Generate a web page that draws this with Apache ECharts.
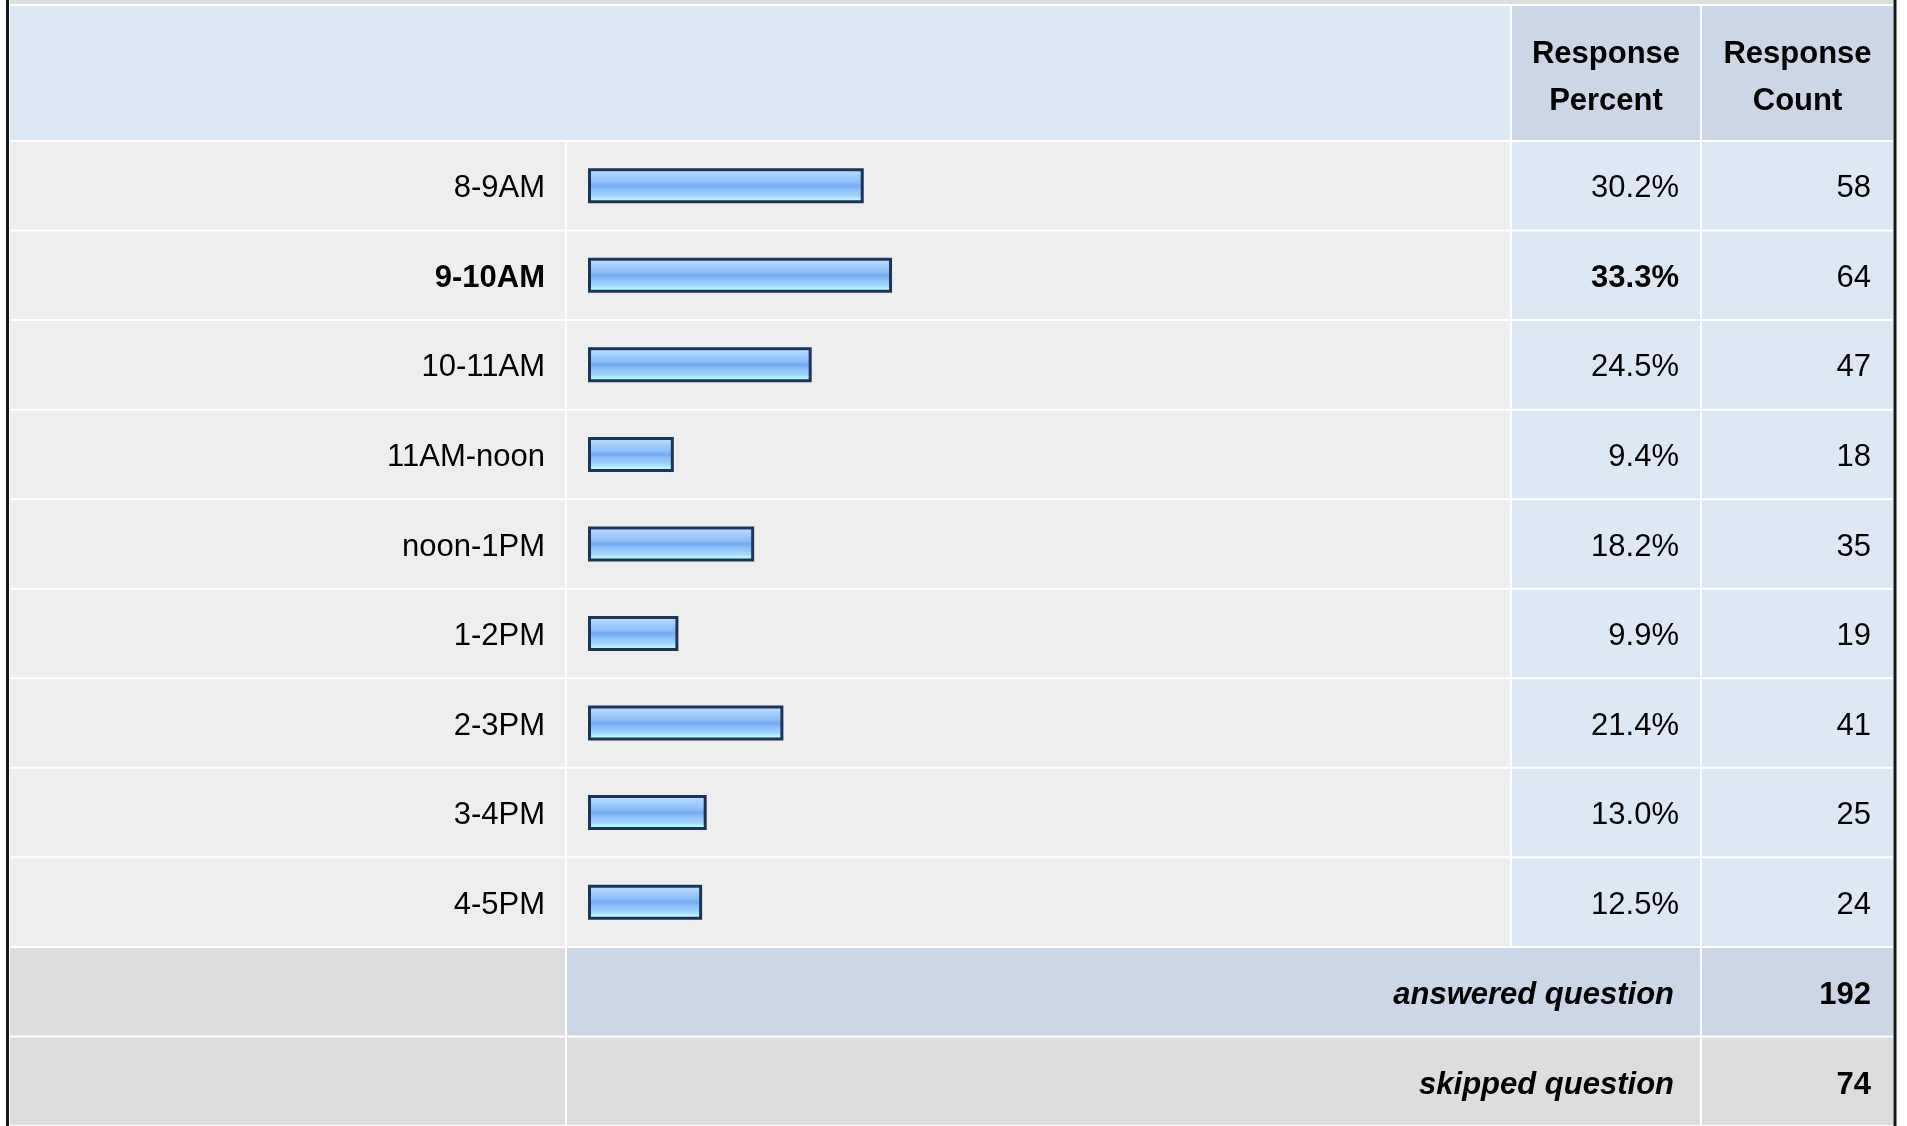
<!DOCTYPE html>
<html><head><meta charset="utf-8">
<script src="https://cdn.jsdelivr.net/npm/echarts@6/dist/echarts.min.js"></script>
<style>html,body{margin:0;padding:0;background:#fff;overflow:hidden}#c{width:1907px;height:1126px}</style>
</head><body><div id="c"></div>
<script>
// ---- data ----
const categories = ['8-9AM','9-10AM','10-11AM','11AM-noon','noon-1PM','1-2PM','2-3PM','3-4PM','4-5PM'];
const responsePercent = [30.2,33.3,24.5,9.4,18.2,9.9,21.4,13.0,12.5];
const responseCount = [58,64,47,18,35,19,41,25,24];
const headerLabels = ['Response\nPercent','Response\nCount'];
const footerLabels = ['answered question','skipped question'];
const footerCounts = [192,74];

// ---- layout / style ----
const FONT = '"Liberation Sans", Arial, Helvetica, sans-serif';
const FS = 31;
const COL = {labelL:10, labelR:565, barL:567, barR:1510, pctL:1512, pctR:1700, cntL:1702, cntR:1893};
const C = {body:'#eeeeee', lightBlue:'#dde8f5', darkBlue:'#cbd7e6', grey:'#dddddd', border:'#161616'};
const maxIdx = responsePercent.indexOf(Math.max(...responsePercent));
const allRows = categories.concat(footerLabels);

function txt(x, y, s, align, weight, style) {
  return {type:'text', z2:10, style:{x:x, y:y, text:s, align:align, verticalAlign:'middle',
    fontSize:FS, fontFamily:FONT, fontWeight:weight||'normal', fontStyle:style||'normal', fill:'#000', lineHeight:47}};
}
function rect(x1, y1, x2, y2, fill) {
  return {type:'rect', shape:{x:x1, y:y1, width:x2-x1, height:y2-y1}, style:{fill:fill}};
}

function renderBody(params, api) {
  const i = api.value(1);
  const c = api.coord([0, i]);
  const h = api.size([0, 1])[1];
  const y1 = c[1] - h / 2 + 1, y2 = c[1] + h / 2 - 1, cy = c[1] + 3;
  const ch = [];
  if (i < categories.length) {
    const bold = i === maxIdx ? 'bold' : 'normal';
    ch.push(rect(COL.labelL, y1, COL.labelR, y2, C.body));
    ch.push(rect(COL.barL, y1, COL.barR, y2, C.body));
    ch.push(rect(COL.pctL, y1, COL.pctR, y2, C.lightBlue));
    ch.push(rect(COL.cntL, y1, COL.cntR, y2, C.lightBlue));
    ch.push(txt(COL.labelR - 20, cy, categories[i], 'right', bold));
    ch.push(txt(COL.pctR - 21, cy, responsePercent[i].toFixed(1) + '%', 'right', bold));
    ch.push(txt(COL.cntR - 22, cy, String(responseCount[i]), 'right'));
  } else {
    const k = i - categories.length;
    const fill = k === 0 ? C.darkBlue : C.grey;
    ch.push(rect(COL.labelL, y1, COL.labelR, y2, C.grey));
    ch.push(rect(COL.barL, y1, COL.pctR, y2, fill));
    ch.push(rect(COL.cntL, y1, COL.cntR, y2, fill));
    ch.push(txt(COL.pctR - 26, cy + 1, footerLabels[k], 'right', 'bold', 'italic'));
    ch.push(txt(COL.cntR - 22, cy + 1, String(footerCounts[k]), 'right', 'bold'));
  }
  return {type:'group', children:ch};
}

function renderHeader(params, api) {
  const c = api.coord([0, 0]);
  const h = api.size([0, 1])[1];
  const y1 = c[1] - h / 2, y2 = c[1] + h / 2, cy = c[1];
  return {type:'group', children:[
    rect(COL.labelL, y1, COL.barR, y2, C.lightBlue),
    rect(COL.pctL, y1, COL.pctR, y2, C.darkBlue),
    rect(COL.cntL, y1, COL.cntR, y2, C.darkBlue),
    txt((COL.pctL + COL.pctR) / 2, cy + 5, headerLabels[0], 'center', 'bold'),
    txt((COL.cntL + COL.cntR) / 2, cy + 5, headerLabels[1], 'center', 'bold')
  ]};
}

const chart = echarts.init(document.getElementById('c'), null, {renderer:'canvas'});
chart.setOption({
  animation:false,
  backgroundColor:'#ffffff',
  grid:[
    {left:588, width:913, top:141, height:985},
    {left:588, width:913, top:6, height:134}
  ],
  xAxis:[
    {gridIndex:0, type:'value', min:0, max:100, show:false},
    {gridIndex:1, type:'value', min:0, max:100, show:false}
  ],
  yAxis:[
    {gridIndex:0, type:'category', data:allRows, inverse:true, show:false},
    {gridIndex:1, type:'category', data:['header'], show:false}
  ],
  graphic:[
    {type:'rect', shape:{x:COL.labelL, y:0, width:COL.cntR - COL.labelL, height:4}, style:{fill:C.grey}, z:-1},
    {type:'rect', shape:{x:6, y:0, width:3, height:1126}, style:{fill:C.border}, z:100},
    {type:'rect', shape:{x:1893.5, y:0, width:3, height:1126}, style:{fill:C.border}, z:100}
  ],
  series:[
    {type:'custom', xAxisIndex:1, yAxisIndex:1, z:1, silent:true,
      data:[[0, 0]], encode:{x:0, y:1}, renderItem:renderHeader},
    {type:'custom', xAxisIndex:0, yAxisIndex:0, z:1, silent:true,
      data:allRows.map((_, i) => [0, i]), encode:{x:0, y:1}, renderItem:renderBody},
    {type:'bar', xAxisIndex:0, yAxisIndex:0, z:5, barWidth:35, silent:true,
      data:responsePercent,
      itemStyle:{
        borderColor:'#1c3458', borderWidth:3,
        color:new echarts.graphic.LinearGradient(0, 0, 0, 1, [
          {offset:0, color:'#d2e9ff'},
          {offset:0.15, color:'#acd4ff'},
          {offset:0.4, color:'#8cbff8'},
          {offset:0.5, color:'#74a9ee'},
          {offset:0.62, color:'#8cc0fa'},
          {offset:0.78, color:'#a2d2ff'},
          {offset:0.88, color:'#b4f8ff'},
          {offset:1, color:'#b8ffff'}
        ])
      }}
  ]
});
</script>
</body></html>
